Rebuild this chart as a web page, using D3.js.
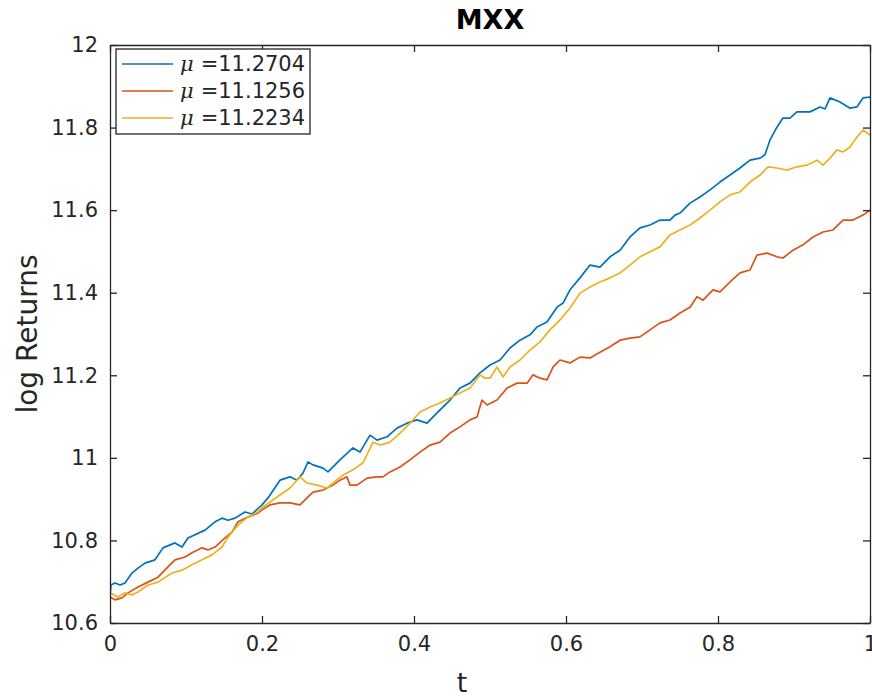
<!DOCTYPE html>
<html>
<head>
<meta charset="utf-8">
<script src="https://cdn.jsdelivr.net/npm/d3@7"></script>
<style>
  html, body { margin: 0; padding: 0; background: #fff; }
  svg { display: block; font-family: "DejaVu Sans", sans-serif; }
</style>
</head>
<body>
<svg id="chart" width="872" height="698"></svg>
<script>
// Simulated log-return paths, t in [0, 1]
const seriesBlue = [
  [0,10.668],[0.0013,10.692],[0.0066,10.697],[0.0132,10.692],[0.0197,10.697],[0.0289,10.721],
  [0.0368,10.733],[0.0461,10.745],[0.0592,10.753],[0.0697,10.782],[0.0855,10.794],[0.0947,10.784],
  [0.1026,10.806],[0.125,10.825],[0.1382,10.845],[0.1474,10.854],[0.1553,10.849],[0.1645,10.854],
  [0.1776,10.869],[0.1868,10.864],[0.2,10.886],[0.2079,10.903],[0.2237,10.946],[0.2368,10.954],
  [0.2461,10.946],[0.2539,10.963],[0.2605,10.990],[0.2671,10.983],[0.2803,10.975],[0.2868,10.966],
  [0.3026,10.995],[0.3197,11.024],[0.3289,11.014],[0.3421,11.055],[0.3513,11.043],[0.3645,11.051],
  [0.3776,11.072],[0.3908,11.084],[0.4039,11.092],[0.4171,11.084],[0.4303,11.109],[0.4474,11.140],
  [0.4605,11.169],[0.4737,11.181],[0.4868,11.206],[0.5,11.225],[0.5132,11.237],[0.5263,11.266],
  [0.5395,11.285],[0.5526,11.298],[0.5618,11.317],[0.575,11.329],[0.5882,11.365],[0.5961,11.375],
  [0.6053,11.407],[0.6184,11.436],[0.6316,11.467],[0.6447,11.462],[0.6579,11.487],[0.6711,11.503],
  [0.6842,11.535],[0.6974,11.557],[0.7105,11.564],[0.7237,11.576],[0.7368,11.576],[0.7434,11.588],
  [0.75,11.593],[0.7632,11.617],[0.7763,11.632],[0.7895,11.649],[0.8026,11.668],[0.8158,11.685],
  [0.8289,11.702],[0.8421,11.721],[0.8553,11.726],[0.8618,11.734],[0.8684,11.770],[0.8776,11.801],
  [0.8855,11.823],[0.8947,11.823],[0.9039,11.838],[0.9211,11.838],[0.9342,11.850],[0.9408,11.845],
  [0.9474,11.872],[0.9605,11.862],[0.9737,11.847],[0.9829,11.850],[0.9908,11.872],[1,11.874]
];
const seriesRed = [
  [0,10.663],[0.0066,10.656],[0.0158,10.661],[0.0237,10.673],[0.0368,10.687],[0.05,10.699],
  [0.0632,10.711],[0.0763,10.736],[0.0855,10.753],[0.0987,10.760],[0.1079,10.770],[0.1211,10.782],
  [0.1289,10.777],[0.1382,10.784],[0.1513,10.806],[0.1605,10.820],[0.1684,10.845],[0.1816,10.857],
  [0.1947,10.866],[0.2,10.874],[0.2105,10.886],[0.2237,10.891],[0.2368,10.891],[0.25,10.886],
  [0.2592,10.903],[0.2671,10.917],[0.2803,10.922],[0.2934,10.934],[0.3026,10.946],[0.3118,10.954],
  [0.3158,10.934],[0.325,10.934],[0.3382,10.951],[0.3513,10.954],[0.3592,10.954],[0.3684,10.966],
  [0.3816,10.978],[0.3947,10.995],[0.4079,11.014],[0.4211,11.031],[0.4342,11.038],[0.4474,11.060],
  [0.4605,11.075],[0.4737,11.092],[0.4829,11.099],[0.4895,11.140],[0.4961,11.128],[0.5092,11.140],
  [0.5224,11.169],[0.5355,11.181],[0.5487,11.181],[0.5566,11.201],[0.5658,11.193],[0.575,11.189],
  [0.5829,11.220],[0.5921,11.237],[0.6053,11.230],[0.6184,11.244],[0.6316,11.242],[0.6447,11.256],
  [0.6579,11.269],[0.6711,11.285],[0.6842,11.290],[0.6974,11.293],[0.7105,11.310],[0.7237,11.327],
  [0.7368,11.334],[0.75,11.351],[0.7632,11.365],[0.7724,11.390],[0.7803,11.382],[0.7934,11.407],
  [0.8026,11.402],[0.8158,11.426],[0.8289,11.448],[0.8421,11.455],[0.8513,11.491],[0.8645,11.496],
  [0.8776,11.487],[0.8855,11.484],[0.8987,11.503],[0.9118,11.516],[0.925,11.535],[0.9382,11.547],
  [0.9513,11.552],[0.9645,11.576],[0.9776,11.576],[0.9908,11.588],[1,11.600]
];
const seriesYellow = [
  [0,10.673],[0.0105,10.663],[0.0197,10.673],[0.0289,10.668],[0.0368,10.675],[0.05,10.692],
  [0.0632,10.699],[0.0816,10.721],[0.0947,10.728],[0.1079,10.741],[0.1211,10.753],[0.1342,10.765],
  [0.1474,10.784],[0.1553,10.808],[0.1684,10.837],[0.1816,10.857],[0.1947,10.869],[0.2,10.879],
  [0.2105,10.893],[0.2237,10.910],[0.2368,10.927],[0.25,10.954],[0.2592,10.939],[0.2724,10.934],
  [0.2855,10.927],[0.2934,10.939],[0.3066,10.958],[0.3197,10.971],[0.3329,10.988],[0.3461,11.038],
  [0.3553,11.031],[0.3684,11.038],[0.3816,11.060],[0.3947,11.084],[0.4079,11.111],[0.4211,11.123],
  [0.4342,11.133],[0.4474,11.145],[0.4605,11.157],[0.4737,11.169],[0.4868,11.201],[0.4934,11.193],
  [0.5,11.193],[0.5092,11.220],[0.5171,11.196],[0.5263,11.220],[0.5395,11.237],[0.5526,11.261],
  [0.5658,11.281],[0.5789,11.310],[0.5921,11.334],[0.6053,11.363],[0.6184,11.399],[0.6316,11.414],
  [0.6447,11.426],[0.6579,11.436],[0.6711,11.448],[0.6842,11.467],[0.6974,11.487],[0.7105,11.499],
  [0.7237,11.511],[0.7368,11.540],[0.75,11.552],[0.7632,11.564],[0.7763,11.581],[0.7895,11.600],
  [0.8026,11.620],[0.8158,11.637],[0.8289,11.644],[0.8421,11.668],[0.8553,11.685],[0.8658,11.705],
  [0.8776,11.702],[0.8908,11.697],[0.9039,11.705],[0.9171,11.709],[0.9303,11.721],[0.9382,11.709],
  [0.9474,11.726],[0.9566,11.746],[0.9645,11.741],[0.9737,11.753],[0.9829,11.777],[0.9908,11.794],
  [1,11.782]
];

const legendLabels = ["=11.2704", "=11.1256", "=11.2234"];
const xTickValues = [0, 0.2, 0.4, 0.6, 0.8, 1];
const xTickLabels = ["0", "0.2", "0.4", "0.6", "0.8", "1"];
const yTickValues = [10.6, 10.8, 11, 11.2, 11.4, 11.6, 11.8, 12];
const yTickLabels = ["10.6", "10.8", "11", "11.2", "11.4", "11.6", "11.8", "12"];

const colors = ["#0072BD", "#D95319", "#EDB120"];
const allSeries = [seriesBlue, seriesRed, seriesYellow];

const svg = d3.select("#chart");
const plot = { left: 110, top: 45, right: 870, bottom: 623 };
const axisColor = "#262626";

const x = d3.scaleLinear().domain([0, 1]).range([plot.left, plot.right]);
const y = d3.scaleLinear().domain([10.6, 12]).range([plot.bottom, plot.top]);

svg.append("defs").append("clipPath").attr("id", "plotClip")
  .append("rect")
  .attr("x", plot.left).attr("y", plot.top)
  .attr("width", plot.right - plot.left).attr("height", plot.bottom - plot.top);

// Data lines
const line = d3.line().x(d => x(d[0])).y(d => y(d[1]));
const lines = svg.append("g").attr("clip-path", "url(#plotClip)");
allSeries.forEach((s, i) => {
  lines.append("path")
    .datum(s)
    .attr("d", line)
    .attr("fill", "none")
    .attr("stroke", colors[i])
    .attr("stroke-width", 1.7)
    .attr("stroke-linejoin", "round");
});

// Axes with inward ticks on all four sides
const tickLen = 7;
const fmtX = (d, i) => xTickLabels[i];
const fmtY = (d, i) => yTickLabels[i];

function styleAxis(g) {
  g.selectAll(".domain").attr("stroke", axisColor).attr("stroke-width", 1.3);
  g.selectAll(".tick line").attr("stroke", axisColor).attr("stroke-width", 1.3);
  g.selectAll(".tick text").attr("fill", axisColor)
    .style("font-family", "DejaVu Sans, sans-serif").style("font-size", "21px");
}

svg.append("g")
  .attr("transform", `translate(0,${plot.bottom})`)
  .call(d3.axisBottom(x).tickValues(xTickValues).tickFormat(fmtX)
    .tickSizeInner(-tickLen).tickSizeOuter(0).tickPadding(13))
  .call(styleAxis);

svg.append("g")
  .attr("transform", `translate(0,${plot.top})`)
  .call(d3.axisTop(x).tickValues(xTickValues).tickFormat("")
    .tickSizeInner(-tickLen).tickSizeOuter(0))
  .call(styleAxis);

svg.append("g")
  .attr("transform", `translate(${plot.left},0)`)
  .call(d3.axisLeft(y).tickValues(yTickValues).tickFormat(fmtY)
    .tickSizeInner(-tickLen).tickSizeOuter(0).tickPadding(12))
  .call(styleAxis);

svg.append("g")
  .attr("transform", `translate(${plot.right},0)`)
  .call(d3.axisRight(y).tickValues(yTickValues).tickFormat("")
    .tickSizeInner(-tickLen).tickSizeOuter(0))
  .call(styleAxis);

// Title and axis labels
svg.append("text")
  .attr("x", (plot.left + plot.right) / 2).attr("y", 29)
  .attr("text-anchor", "middle")
  .attr("fill", "#000")
  .style("font-size", "27px").style("font-weight", "bold")
  .text("MXX");

svg.append("text")
  .attr("x", 462).attr("y", 692)
  .attr("text-anchor", "middle")
  .attr("fill", axisColor)
  .style("font-size", "27px")
  .text("t");

svg.append("text")
  .attr("transform", `translate(37,${(plot.top + plot.bottom) / 2}) rotate(-90)`)
  .attr("text-anchor", "middle")
  .attr("fill", axisColor)
  .style("font-size", "28px")
  .text("log Returns");

// Legend
const legend = svg.append("g");
const lg = { x: 116, y: 49, w: 194, h: 85 };
legend.append("rect")
  .attr("x", lg.x).attr("y", lg.y).attr("width", lg.w).attr("height", lg.h)
  .attr("fill", "#fff").attr("stroke", axisColor).attr("stroke-width", 1.3);

legendLabels.forEach((lab, i) => {
  const cy = lg.y + 15 + i * 27;
  legend.append("line")
    .attr("x1", lg.x + 6).attr("x2", lg.x + 57)
    .attr("y1", cy).attr("y2", cy)
    .attr("stroke", colors[i]).attr("stroke-width", 1.7);
  const t = legend.append("text")
    .attr("x", lg.x + 64).attr("y", cy + 7)
    .attr("fill", axisColor)
    .style("font-size", "21px");
  t.append("tspan").style("font-style", "italic").style("font-family", "DejaVu Serif, serif").text("\u03bc");
  t.append("tspan").attr("dx", 7).text(lab);
});
</script>
</body>
</html>
